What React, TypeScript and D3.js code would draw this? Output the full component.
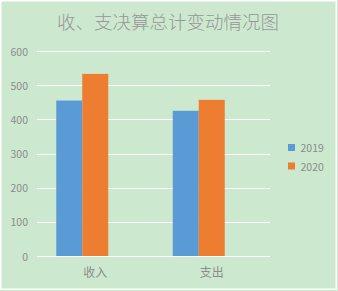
import React from "react";
import * as d3 from "d3";

const title = "收、支决算总计变动情况图";
const categories = ["收入", "支出"];
const seriesNames = ["2019", "2020"];
const values2019 = [455, 425];
const values2020 = [533, 457];
const seriesColors = ["#5b9bd5", "#ed7d31"];
const yTicks = [0, 100, 200, 300, 400, 500, 600];

const W = 338;
const H = 291;

export default function App() {
  const seriesValues = [values2019, values2020];
  const y = d3.scaleLinear().domain([0, 600]).range([256, 51]);
  const gap = 38.5 / 116.5;
  const x0 = d3
    .scaleBand<string>()
    .domain(categories)
    .range([37, 270])
    .paddingInner(gap)
    .paddingOuter(gap / 2);
  // Excel group has an empty third slot
  const slots = [...seriesNames, "_empty"];
  const x1 = d3.scaleBand<string>().domain(slots).range([0, x0.bandwidth()]);
  const textColor = "#8c8c8c";
  const font = "'Noto Sans CJK SC', 'Noto Sans', sans-serif";

  return (
    <div style={{ position: "fixed", left: 0, top: 0 }}>
      <svg width={W} height={H} style={{ display: "block" }}>
        <rect x={0} y={0} width={W} height={H} fill="#cce8cf" />
        <rect x={0.75} y={0.75} width={335.5} height={288.5} fill="none" stroke="#ffffff" strokeWidth={1.5} />
        <text x={168} y={29} textAnchor="middle" fontSize={18.5} fill="#979797" fontWeight={300} fontFamily={font}>
          {title}
        </text>
        {yTicks.map((t) => (
          <g key={t}>
            <line x1={37} x2={270} y1={Math.round(y(t)) + 0.5} y2={Math.round(y(t)) + 0.5} stroke="#ffffff" strokeWidth={1} />
            <text x={28} y={y(t)} textAnchor="end" dominantBaseline="central" fontSize={10.5} fill={textColor} fontFamily={font}>
              {t}
            </text>
          </g>
        ))}
        {categories.map((c, ci) => (
          <g key={c}>
            {seriesNames.map((s, si) => {
              const v = seriesValues[si][ci];
              return (
                <rect
                  key={s}
                  x={(x0(c) as number) + (x1(s) as number)}
                  y={y(v)}
                  width={x1.bandwidth()}
                  height={y(0) - y(v)}
                  fill={seriesColors[si]}
                />
              );
            })}
            <text
              x={(x0(c) as number) + x0.bandwidth() / 2}
              y={271}
              textAnchor="middle"
              dominantBaseline="central"
              fontSize={12}
              fill={textColor}
              fontFamily={font}
            >
              {c}
            </text>
          </g>
        ))}
        {seriesNames.map((s, si) => (
          <g key={s} transform={`translate(288, ${144 + si * 18.5})`}>
            <rect x={0} y={0} width={7} height={7} fill={seriesColors[si]} />
            <text x={12.5} y={3.8} dominantBaseline="central" fontSize={10.5} fill={textColor} fontFamily={font}>
              {s}
            </text>
          </g>
        ))}
      </svg>
    </div>
  );
}
